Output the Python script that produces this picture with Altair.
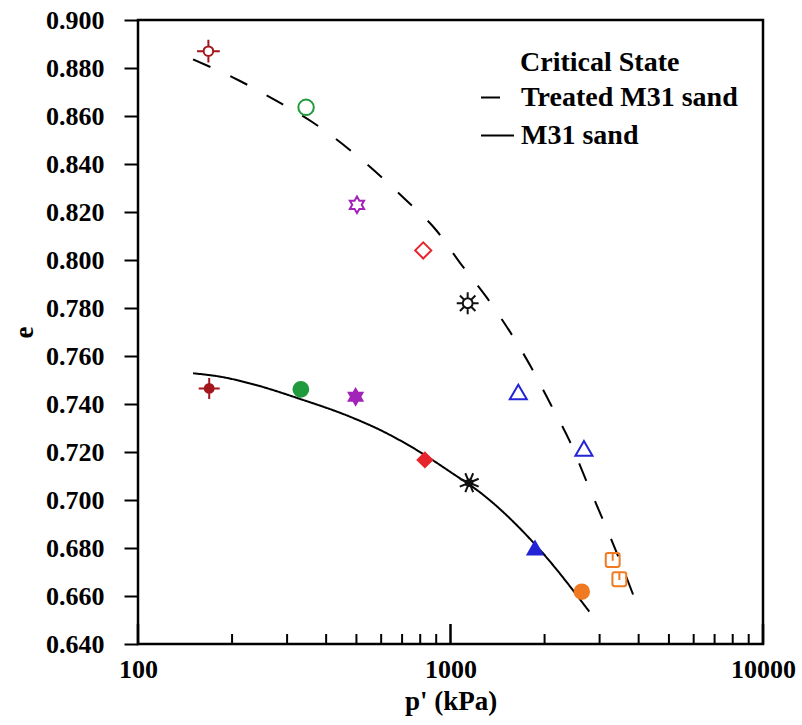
import math
import altair as alt
import pandas as pd

# Critical-state void ratio e against mean effective stress p' (kPa)
treated_p = [168, 345, 502, 818, 1135, 1648, 2673, 3304, 3470]
treated_e = [0.887, 0.8636, 0.823, 0.804, 0.782, 0.745, 0.7215, 0.675, 0.667]
treated_test = ["A", "B", "C", "D", "E", "F", "F", "G", "G"]

m31_p = [169, 332, 497, 828, 1148, 1864, 2631]
m31_e = [0.7465, 0.7461, 0.743, 0.7167, 0.7072, 0.680, 0.6618]
m31_test = ["A", "B", "C", "D", "E", "F", "G"]

# Critical state lines
treated_line_p = [150, 209, 274, 361, 720, 899, 1080, 1309, 1810, 2097, 2413, 2714, 3436, 3953]
treated_line_e = [0.8836, 0.875, 0.8667, 0.8575, 0.825, 0.8125, 0.7983, 0.7842,
                  0.7554, 0.7396, 0.7242, 0.7083, 0.6767, 0.6563]
m31_line_p = [150, 183, 228, 332, 477, 610, 780, 996, 1274, 1934, 2780]
m31_line_e = [0.7528, 0.7514, 0.7486, 0.7420, 0.7347, 0.7285, 0.7208, 0.7118,
              0.7021, 0.6792, 0.6535]

line_names = ["Treated M31 sand", "M31 sand"]
legend_title = "Critical State"

x_labels = [100, 1000, 10000]
x_minor = [200, 300, 400, 500, 600, 700, 800, 900,
           2000, 3000, 4000, 5000, 6000, 7000, 8000, 9000]
x_major = [100, 1000, 10000]
y_ticks = [round(0.64 + 0.01 * i, 3) for i in range(27)]

FONT = "Liberation Serif"
W, H = 625, 624


def ring(r):
    return f"M{-r},0A{r},{r},0,1,1,{r},0A{r},{r},0,1,1,{-r},0Z"


def spokes(n, r0, r1, start=0):
    parts = []
    for k in range(n):
        a = math.radians(start + k * 360 / n)
        parts.append(f"M{r0 * math.cos(a):.3f},{r0 * math.sin(a):.3f}"
                     f"L{r1 * math.cos(a):.3f},{r1 * math.sin(a):.3f}")
    return "".join(parts)


def star(points, r_out, r_in):
    pts = []
    for k in range(points * 2):
        a = math.radians(-90 + k * 180 / points)
        r = r_out if k % 2 == 0 else r_in
        pts.append(f"{r * math.cos(a):.3f},{r * math.sin(a):.3f}")
    return "M" + "L".join(pts) + "Z"


crosshair = ring(0.42) + spokes(4, 0.42, 1.0)
sun = ring(0.45) + spokes(8, 0.45, 1.0)
asterisk = ring(0.32) + spokes(8, 0.0, 1.0, 22.5)
hexagram = star(6, 1.0, 0.577)
round_square = ("M-0.55,-0.8L0.55,-0.8A0.25,0.25,0,0,1,0.8,-0.55L0.8,0.55"
                "A0.25,0.25,0,0,1,0.55,0.8L-0.55,0.8A0.25,0.25,0,0,1,-0.8,0.55"
                "L-0.8,-0.55A0.25,0.25,0,0,1,-0.55,-0.8Z M0,-0.8L0,0.1")

# test -> (colour, open shape, open size, filled shape, filled size)
styles = {
    "A": ("#a3161c", crosshair, 520, crosshair, 440),
    "B": ("#1f9a3c", "circle", 240, "circle", 220),
    "C": ("#a223b8", hexagram, 270, hexagram, 250),
    "D": ("#e8242c", "diamond", 260, "diamond", 210),
    "E": ("#111111", sun, 480, asterisk, 420),
    "F": ("#2424d6", "triangle-up", 290, "triangle-up", 220),
    "G": ("#f07a22", round_square, 300, "circle", 210),
}

treated_df = pd.DataFrame({"p": treated_p, "e": treated_e, "test": treated_test})
m31_df = pd.DataFrame({"p": m31_p, "e": m31_e, "test": m31_test})
lines_df = pd.concat([
    pd.DataFrame({"p": treated_line_p, "e": treated_line_e, "series": line_names[0]}),
    pd.DataFrame({"p": m31_line_p, "e": m31_line_e, "series": line_names[1]}),
])

x_scale = alt.Scale(type="log", domain=[100, 10000], nice=False)
y_scale = alt.Scale(domain=[0.64, 0.90], nice=False, zero=False)

x_axis = alt.Axis(
    values=x_labels, format="d", ticks=False, domain=False, grid=False,
    labelFlush=False, labelPadding=12, labelFont=FONT, labelFontSize=26,
    labelFontWeight="bold", labelColor="black",
    title="p' (kPa)", titleFont=FONT, titleFontSize=27, titleFontWeight="bold",
    titleColor="black", titlePadding=6,
)
y_axis = alt.Axis(
    values=y_ticks, domain=False, grid=False,
    labelExpr="round(datum.value * 1000) % 20 == 0 ? format(datum.value, '.3f') : ''",
    tickSize={"condition": {"test": "round(datum.value * 1000) % 20 == 0", "value": 14},
              "value": 7},
    tickWidth=2, tickColor="black", labelPadding=20,
    labelFont=FONT, labelFontSize=26, labelFontWeight="bold", labelColor="black",
    title="e", titleFont=FONT, titleFontSize=27, titleFontWeight="bold",
    titleColor="black", titleX=-100,
)

lines = alt.Chart(lines_df).mark_line(
    color="black", strokeWidth=2, interpolate="monotone"
).encode(
    x=alt.X("p:Q", scale=x_scale, axis=x_axis),
    y=alt.Y("e:Q", scale=y_scale, axis=y_axis),
    strokeDash=alt.StrokeDash(
        "series:N",
        scale=alt.Scale(domain=line_names, range=[[19, 22], [1, 0]]),
        sort=line_names,
        legend=alt.Legend(
            title=None, orient="none", legendX=342, legendY=60,
            symbolType="stroke", symbolStrokeColor="black", symbolStrokeWidth=2,
            symbolSize=1089, labelFont=FONT, labelFontSize=28,
            labelFontWeight="bold", labelColor="black", labelOffset=6,
            rowPadding=6, padding=0, labelLimit=400,
        ),
    ),
)

title_text = alt.Chart(pd.DataFrame({"t": [legend_title]})).mark_text(
    font=FONT, fontSize=28, fontWeight="bold", color="black",
    align="left", baseline="middle",
).encode(x=alt.value(382), y=alt.value(43), text="t:N")

minor_ticks = alt.Chart(pd.DataFrame({"p": x_minor})).mark_rule(
    color="black", strokeWidth=2
).encode(x=alt.X("p:Q", scale=x_scale), y=alt.value(H), y2=alt.value(H - 10))
major_ticks = alt.Chart(pd.DataFrame({"p": x_major})).mark_rule(
    color="black", strokeWidth=2.5
).encode(x=alt.X("p:Q", scale=x_scale), y=alt.value(H), y2=alt.value(H - 20))

point_layers = []
for test, (col, oshape, osize, fshape, fsize) in styles.items():
    tdf = treated_df[treated_df.test == test]
    point_layers.append(
        alt.Chart(tdf).mark_point(
            shape=oshape, size=osize, filled=False, stroke=col,
            strokeWidth=2, opacity=1,
        ).encode(x=alt.X("p:Q", scale=x_scale), y=alt.Y("e:Q", scale=y_scale))
    )
    mdf = m31_df[m31_df.test == test]
    point_layers.append(
        alt.Chart(mdf).mark_point(
            shape=fshape, size=fsize, filled=True, fill=col, stroke=col,
            strokeWidth=2, opacity=1,
        ).encode(x=alt.X("p:Q", scale=x_scale), y=alt.Y("e:Q", scale=y_scale))
    )

chart = alt.layer(
    lines, minor_ticks, major_ticks, *point_layers, title_text
).properties(
    width=W, height=H,
    autosize=alt.AutoSizeParams(type="none"),
    padding={"left": 138, "top": 20, "right": 39, "bottom": 81},
    background="white",
).configure_view(
    stroke="black", strokeWidth=2.5
)

chart.save("out.html", embed_options={"renderer": "svg", "actions": False})
